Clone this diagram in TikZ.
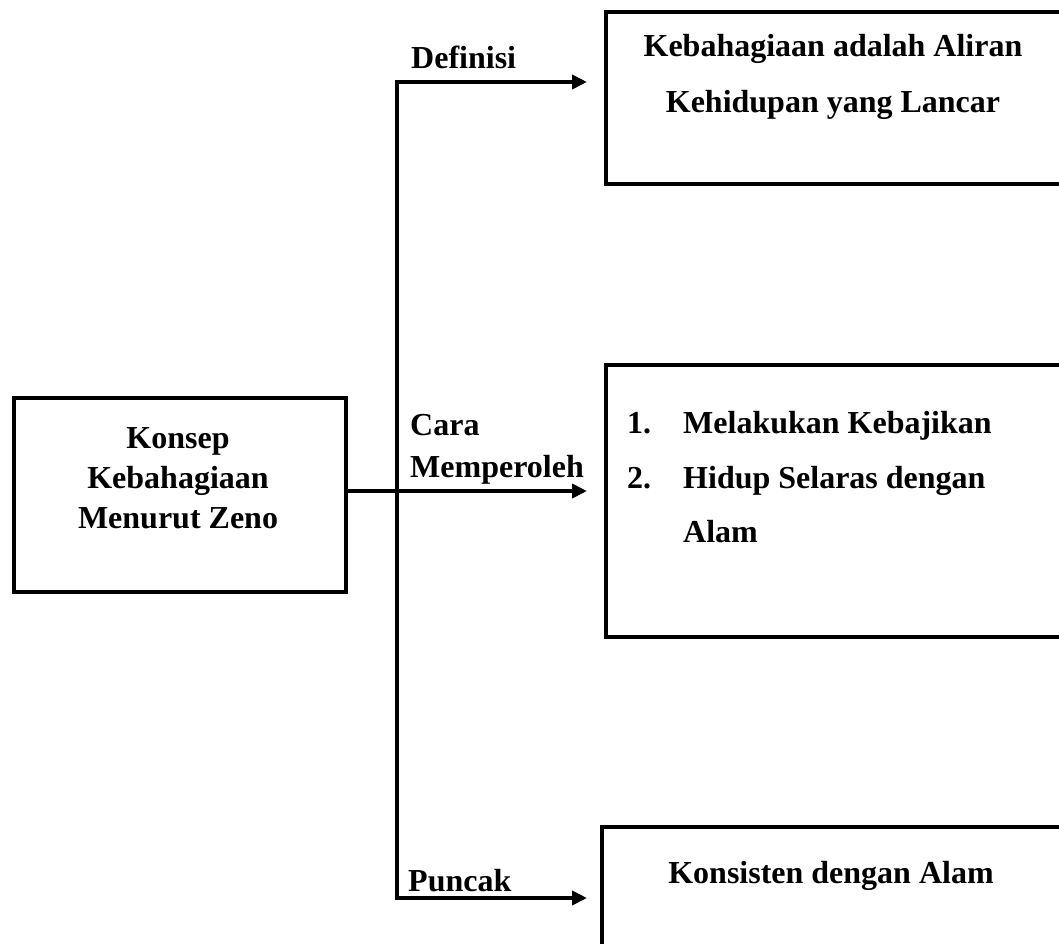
\documentclass[tikz,border=0pt]{standalone}
\usepackage{fontspec}
\setmainfont{Liberation Serif}
\usetikzlibrary{arrows.meta}
\begin{document}
\begin{tikzpicture}[x=1pt,y=-1pt,
  box/.style={draw, line width=4pt, inner sep=0pt, anchor=north west},
  txt/.style={font=\bfseries\fontsize{32}{40}\selectfont, inner sep=0pt},
  conn/.style={line width=4pt},
  arr/.style={conn, -{Triangle[length=15pt,width=14pt]}}]
\useasboundingbox (0,0) rectangle (1059,944);
\clip (0,0) rectangle (1059,944);
% boxes
\node[box, minimum width=332pt, minimum height=194pt] (root) at (12,396) {};
\node[box, minimum width=470pt, minimum height=172pt] (b1) at (604,10) {};
\node[box, minimum width=470pt, minimum height=272pt] (b2) at (604,363) {};
\node[box, minimum width=470pt, minimum height=200pt] (b3) at (600,825) {};
% root text
\node[txt, anchor=base] (r1) at (178,448) {Konsep};
\node[txt, anchor=base] (r2) at (178,488) {Kebahagiaan};
\node[txt, anchor=base] (r3) at (178,528) {Menurut Zeno};
% box 1 text
\node[txt, anchor=base] (a1) at (833,57) {Kebahagiaan adalah Aliran};
\node[txt, anchor=base] (a2) at (833,113) {Kehidupan yang Lancar};
% box 2 text
\node[txt, anchor=base west] (n1) at (627,433) {1.};
\node[txt, anchor=base west] (m1) at (683,433) {Melakukan Kebajikan};
\node[txt, anchor=base west] (n2) at (627,488) {2.};
\node[txt, anchor=base west] (m2) at (683,488) {Hidup Selaras dengan};
\node[txt, anchor=base west] (m3) at (683,542) {Alam};
% box 3 text
\node[txt, anchor=base] (c1) at (831,883) {Konsisten dengan Alam};
% labels
\node[txt, anchor=base west] (l1) at (411,69) {Definisi};
\node[txt, anchor=base west] (l2) at (410,435) {Cara};
\node[txt, anchor=base west] (l3) at (410,477) {Memperoleh};
\node[txt, anchor=base west] (l4) at (408,891) {Puncak};
% connectors
\coordinate (t1) at (397,82);
\coordinate (t2) at (397,491);
\coordinate (t3) at (397,898);
\coordinate (e1) at (587,82);
\coordinate (e2) at (587,491);
\coordinate (e3) at (587,898);
\draw[arr] (t2) -- (t1) -- (e1);
\draw[arr] (t2) -- (t3) -- (e3);
\draw[arr] (root.east |- e2) -- (e2);
\end{tikzpicture}
\end{document}
